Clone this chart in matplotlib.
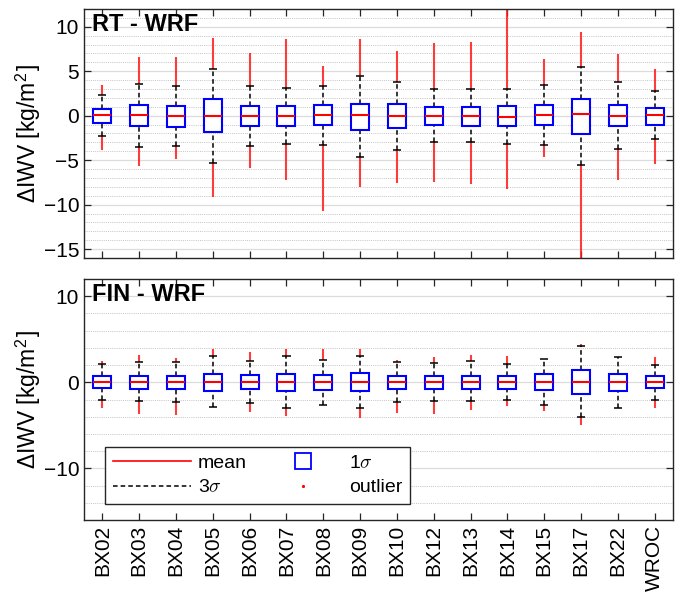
import matplotlib
matplotlib.use('Agg')
import matplotlib.pyplot as plt
from matplotlib.lines import Line2D
from matplotlib.ticker import MultipleLocator
import numpy as np

plt.rcParams['font.family'] = ['Liberation Sans', 'DejaVu Sans']
plt.rcParams['mathtext.fontset'] = 'cm'

stations = ['BX02', 'BX03', 'BX04', 'BX05', 'BX06', 'BX07', 'BX08', 'BX09',
            'BX10', 'BX12', 'BX13', 'BX14', 'BX15', 'BX17', 'BX22', 'WROC']

# RT - WRF
rt_mean = [0.10, 0.05, 0.00, 0.00, 0.00, 0.00, 0.04, 0.07, 0.00, 0.00, 0.00, -0.10, 0.07, 0.20, 0.00, 0.07]
rt_box_hi = [0.78, 1.20, 1.10, 1.90, 1.10, 1.08, 1.20, 1.34, 1.34, 0.97, 0.97, 1.08, 1.15, 1.90, 1.15, 0.90]
rt_box_lo = [-0.82, -1.20, -1.30, -1.80, -1.20, -1.15, -1.08, -1.56, -1.38, -1.08, -1.15, -1.19, -1.10, -2.10, -1.20, -1.00]
rt_cap_hi = [2.30, 3.57, 3.30, 5.30, 3.35, 3.10, 3.35, 4.50, 3.75, 3.00, 3.00, 3.05, 3.40, 5.50, 3.75, 2.75]
rt_cap_lo = [-2.30, -3.50, -3.40, -5.35, -3.35, -3.15, -3.30, -4.60, -3.80, -3.00, -3.00, -3.20, -3.30, -5.50, -3.75, -2.65]
rt_out_hi = [3.5, 6.6, 6.6, 8.7, 7.1, 8.6, 5.6, 8.6, 7.3, 8.2, 8.3, 12.5, 6.4, 9.4, 6.9, 5.3]
rt_out_lo = [-3.9, -5.7, -4.9, -9.1, -5.9, -7.2, -10.7, -7.96, -7.6, -7.4, -7.7, -8.2, -4.6, -16.5, -7.2, -5.4]

# FIN - WRF
fin_mean = [0.00, 0.00, 0.00, 0.00, 0.00, 0.00, 0.00, 0.00, 0.00, 0.00, 0.00, 0.00, 0.00, 0.00, 0.00, 0.03]
fin_box_hi = [0.74, 0.78, 0.78, 1.00, 0.82, 1.00, 0.86, 1.05, 0.78, 0.78, 0.78, 0.74, 0.93, 1.44, 1.00, 0.70]
fin_box_lo = [-0.70, -0.74, -0.74, -0.97, -0.78, -0.97, -0.90, -0.97, -0.78, -0.78, -0.78, -0.74, -0.93, -1.36, -1.05, -0.70]
fin_cap_hi = [2.14, 2.30, 2.33, 3.10, 2.50, 3.07, 2.60, 3.00, 2.33, 2.20, 2.50, 2.14, 2.68, 4.16, 2.96, 2.00]
fin_cap_lo = [-2.00, -2.20, -2.26, -2.84, -2.45, -3.00, -2.65, -2.96, -2.30, -2.20, -2.20, -2.00, -2.65, -4.00, -3.00, -2.00]
fin_out_hi = [2.45, 3.15, 2.80, 3.90, 3.50, 3.85, 3.90, 3.90, 2.60, 2.90, 3.15, 3.07, 2.68, 4.50, 2.96, 2.90]
fin_out_lo = [-2.96, -3.70, -3.85, -2.84, -3.50, -3.90, -2.65, -4.20, -3.60, -3.70, -3.27, -2.80, -3.30, -5.00, -3.00, -3.00]

W, H = 682, 593
fig = plt.figure(figsize=(W / 100, H / 100), dpi=100)

def px_axes(l, t, r, b):
    return fig.add_axes([l / W, 1 - b / H, (r - l) / W, (b - t) / H])

ax1 = px_axes(84, 9, 673, 258)
ax2 = px_axes(84, 279, 673, 520)

BOXW = 0.49
CAPW = 0.22
SPINE = '#262626'

def draw_panel(ax, mean, bhi, blo, chi, clo, ohi, olo, major, minor, title):
    x = np.arange(1, len(stations) + 1)
    ax.set_xlim(0.5, len(stations) + 0.5)
    ax.set_ylim(-16, 12)
    ax.yaxis.set_major_locator(MultipleLocator(major))
    ax.yaxis.set_minor_locator(MultipleLocator(minor))
    ax.grid(True, which='major', axis='y', color='#dcdcdc', lw=0.9, ls='-', zorder=0)
    ax.grid(True, which='minor', axis='y', color='#c4c4c4', lw=0.7, ls=(0, (1, 1.2)), zorder=0)
    ax.set_axisbelow(True)
    # outliers (red, behind)
    ax.vlines(x, chi, ohi, colors='#ff1a1a', lw=1.5, alpha=0.85, zorder=2)
    ax.vlines(x, olo, clo, colors='#ff1a1a', lw=1.5, alpha=0.85, zorder=2)
    # 3 sigma whiskers
    ax.vlines(x, bhi, chi, colors='black', lw=1.1, linestyles=(0, (3, 2)), zorder=3)
    ax.vlines(x, clo, blo, colors='black', lw=1.1, linestyles=(0, (3, 2)), zorder=3)
    ax.hlines(chi, x - CAPW / 2, x + CAPW / 2, colors='black', lw=1.1, zorder=4)
    ax.hlines(clo, x - CAPW / 2, x + CAPW / 2, colors='black', lw=1.1, zorder=4)
    # 1 sigma boxes
    ax.bar(x, np.array(bhi) - np.array(blo), bottom=blo, width=BOXW,
           facecolor='white', edgecolor='#0000ff', lw=1.5, zorder=5)
    ax.hlines(mean, x - BOXW / 2, x + BOXW / 2, colors='#ff0000', lw=1.5, zorder=6)
    ax.set_xticks(x)
    ax.tick_params(axis='both', which='major', direction='in', length=5,
                   top=True, right=True, labelsize=15, color=SPINE, width=0.9)
    ax.tick_params(axis='y', which='minor', left=False, right=False)
    for s in ax.spines.values():
        s.set_color(SPINE)
        s.set_linewidth(1.0)
    ax.set_ylabel('ΔIWV [kg/m$^\\mathregular{2}$]', fontsize=16.5, labelpad=1)
    ax.yaxis.set_label_coords(-0.07, 0.5)
    ax.text(0.013, 0.985, title, transform=ax.transAxes, ha='left', va='top',
            fontsize=17, fontweight='bold', zorder=10)

draw_panel(ax1, rt_mean, rt_box_hi, rt_box_lo, rt_cap_hi, rt_cap_lo, rt_out_hi, rt_out_lo,
           5, 1, 'RT - WRF')
draw_panel(ax2, fin_mean, fin_box_hi, fin_box_lo, fin_cap_hi, fin_cap_lo, fin_out_hi, fin_out_lo,
           10, 2, 'FIN - WRF')

ax1.set_xticklabels([])
ax2.set_xticklabels(stations, rotation=90, fontsize=15)

handles = [
    Line2D([], [], color='#ff0000', lw=1.2),
    Line2D([], [], color='black', lw=1.1, ls=(0, (3, 2))),
    Line2D([], [], ls='none', marker='s', markersize=11, markerfacecolor='none',
           markeredgecolor='#0000ff', markeredgewidth=1.3),
    Line2D([], [], ls='none', marker='.', markersize=2.5, color='#ff0000'),
]
labels = ['mean', r'3$\sigma$', r'1$\sigma$', 'outlier']
leg = ax2.legend(handles, labels, ncol=2, loc='lower left', bbox_to_anchor=(0.036, 0.066),
                 borderaxespad=0, fontsize=14, handlelength=4.0, handletextpad=0.35,
                 columnspacing=0.9, labelspacing=0.35, borderpad=0.4,
                 fancybox=False, framealpha=1, edgecolor='#262626')
leg.get_frame().set_linewidth(1.0)
leg.set_zorder(20)

fig.savefig('out.png', dpi=100)
